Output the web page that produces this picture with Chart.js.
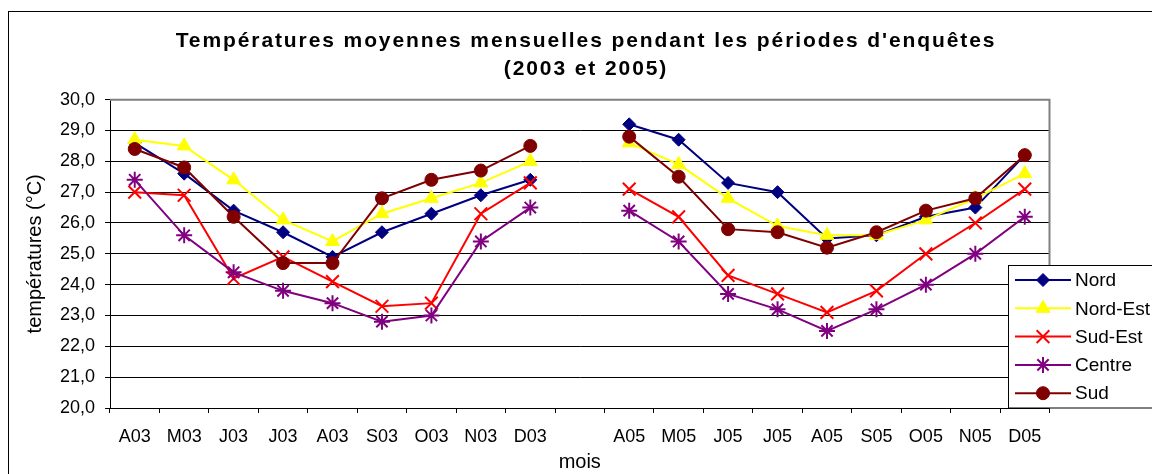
<!DOCTYPE html>
<html>
<head>
<meta charset="utf-8">
<script src="https://cdn.jsdelivr.net/npm/chart.js@4/dist/chart.umd.min.js"></script>
<style>
  html, body { margin: 0; padding: 0; background: #fff; }
  #wrap { position: relative; width: 1152px; height: 474px; overflow: hidden; }
  #frame { position: absolute; left: 8px; top: 11px; width: 1200px; height: 500px; border: 1px solid #000; pointer-events: none; }
  canvas { display: block; }
</style>
</head>
<body>
<div id="wrap">
  <canvas id="c" width="1152" height="474" style="width:1152px;height:474px"></canvas>
  <div id="frame"></div>
</div>
<script>
// ---- Data ----
const categories = ['A03','M03','J03','J03','A03','S03','O03','N03','D03','',
                    'A05','M05','J05','J05','A05','S05','O05','N05','D05'];
const seriesNames = ['Nord', 'Nord-Est', 'Sud-Est', 'Centre', 'Sud'];
const nord    = [28.6, 27.6, 26.4, 25.7, 24.9, 25.7, 26.3, 26.9, 27.4, null, 29.2, 28.7, 27.3, 27.0, 25.5, 25.6, 26.2, 26.5, 28.2];
const nordEst = [28.7, 28.5, 27.4, 26.1, 25.4, 26.3, 26.8, 27.3, 28.0, null, 28.6, 27.9, 26.8, 25.9, 25.6, 25.6, 26.1, 26.8, 27.6];
const sudEst  = [27.0, 26.9, 24.2, 24.9, 24.1, 23.3, 23.4, 26.3, 27.3, null, 27.1, 26.2, 24.3, 23.7, 23.1, 23.8, 25.0, 26.0, 27.1];
const centre  = [27.4, 25.6, 24.4, 23.8, 23.4, 22.8, 23.0, 25.4, 26.5, null, 26.4, 25.4, 23.7, 23.2, 22.5, 23.2, 24.0, 25.0, 26.2];
const sud     = [28.4, 27.8, 26.2, 24.7, 24.7, 26.8, 27.4, 27.7, 28.5, null, 28.8, 27.5, 25.8, 25.7, 25.2, 25.7, 26.4, 26.8, 28.2];
const yMin = 20, yMax = 30, yStep = 1;

const FONT = "'Liberation Sans', Arial, sans-serif";

// ---- Plugins ----
const plotFrame = {
  id: 'plotFrame',
  beforeDatasetsDraw(chart) {
    const { ctx, chartArea: a } = chart;
    ctx.save();
    ctx.strokeStyle = '#808080';
    ctx.lineWidth = 2;
    ctx.beginPath();
    ctx.moveTo(a.left, a.top);
    ctx.lineTo(a.right, a.top);
    ctx.lineTo(a.right, a.bottom);
    ctx.stroke();
    ctx.restore();
  }
};

const boxLegend = {
  id: 'boxLegend',
  afterDraw(chart) {
    const ctx = chart.ctx;
    ctx.save();
    const x0 = 1008.5, y0 = 265.5, w = 160, h = 142.5;
    ctx.fillStyle = '#fff';
    ctx.fillRect(x0, y0, w, h);
    ctx.strokeStyle = '#000';
    ctx.lineWidth = 1;
    ctx.strokeRect(x0, y0, w, h);
    chart.data.datasets.forEach((ds, i) => {
      const y = 280 + i * 28.3;
      ctx.strokeStyle = ds.borderColor;
      ctx.lineWidth = 2;
      ctx.beginPath();
      ctx.moveTo(1015, y);
      ctx.lineTo(1071, y);
      ctx.stroke();
      ctx.fillStyle = ds.pointBackgroundColor;
      ctx.strokeStyle = ds.pointBorderColor;
      ctx.lineWidth = ds.pointBorderWidth;
      Chart.helpers.drawPoint(ctx, {
        pointStyle: ds.pointStyle, radius: ds.pointRadius, rotation: 0, borderWidth: ds.pointBorderWidth
      }, 1043, y);
      ctx.fillStyle = '#000';
      ctx.font = "19px " + FONT;
      ctx.textAlign = 'left';
      ctx.textBaseline = 'middle';
      ctx.fillText(ds.label, 1075, y + 1);
    });
    ctx.restore();
  }
};

function mk(label, data, color, style, radius, bw, order) {
  return {
    label, data,
    borderColor: color, backgroundColor: color,
    pointBackgroundColor: color, pointBorderColor: color,
    pointStyle: style, pointRadius: radius, pointHoverRadius: radius,
    pointBorderWidth: bw, borderWidth: 2, tension: 0, fill: false,
    spanGaps: false, order
  };
}

const chart = new Chart(document.getElementById('c'), {
  type: 'line',
  data: {
    labels: categories,
    datasets: [
      mk(seriesNames[0], nord,    '#000080', 'rectRot',  6.5, 1, 5),
      mk(seriesNames[1], nordEst, '#FFFF00', 'triangle', 8,   1, 4),
      mk(seriesNames[2], sudEst,  '#FF0000', 'crossRot', 9,   2, 3),
      mk(seriesNames[3], centre,  '#800080', 'star',     8,   2, 2),
      mk(seriesNames[4], sud,     '#800000', 'circle',   6.5, 1, 1)
    ]
  },
  options: {
    responsive: false,
    animation: false,
    devicePixelRatio: 1,
    layout: { padding: { left: 20, right: 0, top: 0, bottom: 0 } },
    plugins: {
      legend: { display: false },
      tooltip: { enabled: false },
      title: {
        display: true,
        text: ["Températures moyennes mensuelles pendant les périodes d'enquêtes", '(2003 et 2005)'],
        color: '#000',
        font: { family: FONT, size: 21, weight: 'bold', lineHeight: 1.37 },
        padding: { top: 26.5, bottom: 15.6 }
      }
    },
    scales: {
      x: {
        type: 'category',
        offset: true,
        grid: { display: true, drawOnChartArea: false, drawTicks: true, tickLength: 5, offset: true, color: '#000' },
        border: { display: true, color: '#000', width: 1 },
        ticks: { autoSkip: false, maxRotation: 0, minRotation: 0, color: '#000', font: { family: FONT, size: 18 }, padding: 13 },
        title: { display: true, text: 'mois', color: '#000', font: { family: FONT, size: 20 }, padding: { top: 0, bottom: 0 } },
        afterFit(s) { s.height = 66; }
      },
      y: {
        min: yMin, max: yMax,
        ticks: {
          stepSize: yStep,
          callback: v => v.toFixed(1).replace('.', ','),
          color: '#000', font: { family: FONT, size: 18 }, padding: 10
        },
        grid: { color: '#000', lineWidth: 1, drawTicks: true, tickLength: 5 },
        border: { display: true, color: '#000', width: 1 },
        title: { display: true, text: 'températures (°C)', color: '#000', font: { family: FONT, size: 20 }, padding: { top: 3, bottom: 0 } },
        afterFit(s) { s.width = 90; }
      },
      yR: {
        position: 'right',
        display: true,
        grid: { display: false },
        border: { display: false },
        ticks: { display: false },
        afterFit(s) { s.width = 102.5; }
      }
    }
  },
  plugins: [plotFrame, boxLegend]
});

// Wide letter spacing for the chart title only
if (chart.titleBlock) {
  const tb = chart.titleBlock;
  const origDraw = tb.draw.bind(tb);
  tb.draw = function () {
    const c = this.ctx || chart.ctx;
    c.save();
    c.letterSpacing = '1.9px';
    origDraw();
    c.restore();
  };
  chart.draw();
}
</script>
</body>
</html>
